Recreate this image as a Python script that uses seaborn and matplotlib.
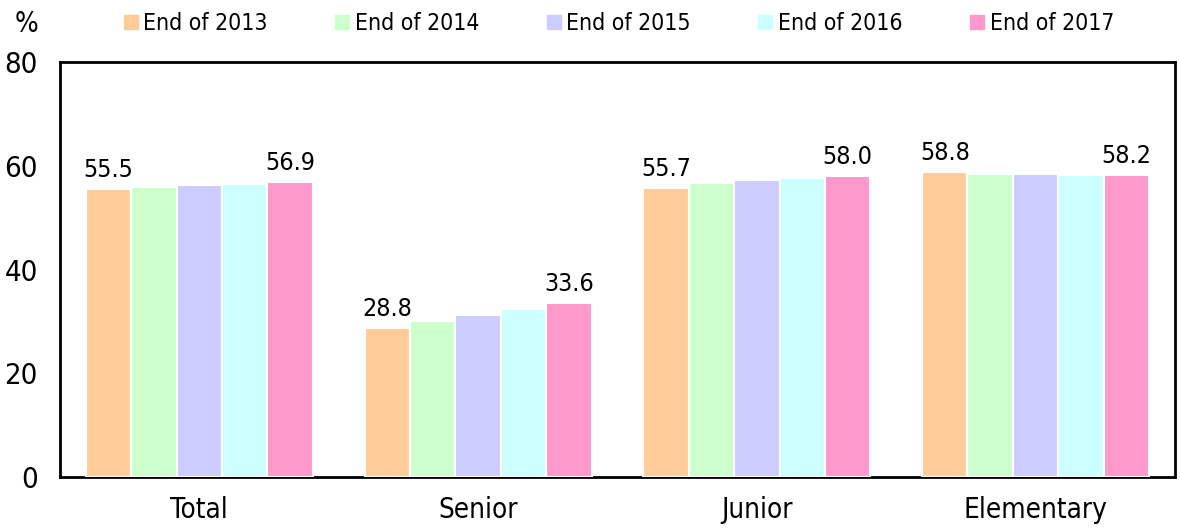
import matplotlib
matplotlib.use("Agg")
import matplotlib.pyplot as plt
from matplotlib.lines import Line2D
import seaborn as sns
import pandas as pd

categories = ["Total", "Senior", "Junior", "Elementary"]
years = ["End of 2013", "End of 2014", "End of 2015", "End of 2016", "End of 2017"]
v2013 = [55.5, 28.8, 55.7, 58.8]
v2014 = [56.0, 30.0, 56.6, 58.4]
v2015 = [56.3, 31.2, 57.2, 58.4]
v2016 = [56.5, 32.3, 57.6, 58.3]
v2017 = [56.9, 33.6, 58.0, 58.2]
colors = ["#FFCC99", "#CCFFCC", "#CCCCFF", "#CCFFFF", "#FF99CC"]
yticks = [0, 20, 40, 60, 80]

series = [v2013, v2014, v2015, v2016, v2017]
rows = []
for y, vals in zip(years, series):
    for c, v in zip(categories, vals):
        rows.append({"cat": c, "year": y, "val": v})
df = pd.DataFrame(rows)

sns.set_style("white")
plt.rcParams["font.family"] = ["DejaVu Sans"]
plt.rcParams["font.stretch"] = "condensed"
plt.rcParams["text.color"] = "black"
plt.rcParams["xtick.color"] = "black"
plt.rcParams["ytick.color"] = "black"

fig = plt.figure(figsize=(11.8, 5.3), dpi=100)
ax = fig.add_axes([0.0508, 0.1, 0.945, 0.783])

sns.barplot(data=df, x="cat", y="val", hue="year", palette=colors,
            order=categories, hue_order=years, width=0.815, saturation=1,
            edgecolor="white", linewidth=1.5, ax=ax, legend=False, zorder=3)

ax.set_ylim(0, 80)
ax.set_xlim(-0.5, 3.5)
ax.set_yticks(yticks)
ax.set_yticklabels([str(t) for t in yticks], fontsize=21, fontstretch="condensed")
ax.tick_params(axis="y", direction="in", length=6, width=1, pad=16, color="black")
ax.tick_params(axis="x", length=0, pad=14)
for lab in ax.get_xticklabels():
    lab.set_fontsize(20)
    lab.set_fontstretch("condensed")
ax.set_xlabel("")
ax.set_ylabel("")
for s in ax.spines.values():
    s.set_visible(True)
    s.set_color("black")
    s.set_linewidth(2)
    s.set_zorder(2)

for idx in (0, 4):
    cont = ax.containers[idx]
    ax.bar_label(cont, labels=[f"{v:.1f}" for v in series[idx]],
                 padding=5, fontsize=18, color="black", fontstretch="condensed")

handles = [Line2D([0], [0], marker="s", linestyle="none", markersize=10,
                  markerfacecolor=c, markeredgecolor=c) for c in colors]
fig.legend(handles, years, loc="center", bbox_to_anchor=(0.524, 0.956), ncol=5,
           frameon=False, prop={"size": 16.5, "stretch": "condensed"},
           handletextpad=0.2, columnspacing=2.9, handlelength=0.7)
fig.text(0.012, 0.955, "%", fontsize=20, va="center", ha="left", fontstretch="condensed")

fig.savefig("out.png", dpi=100)
